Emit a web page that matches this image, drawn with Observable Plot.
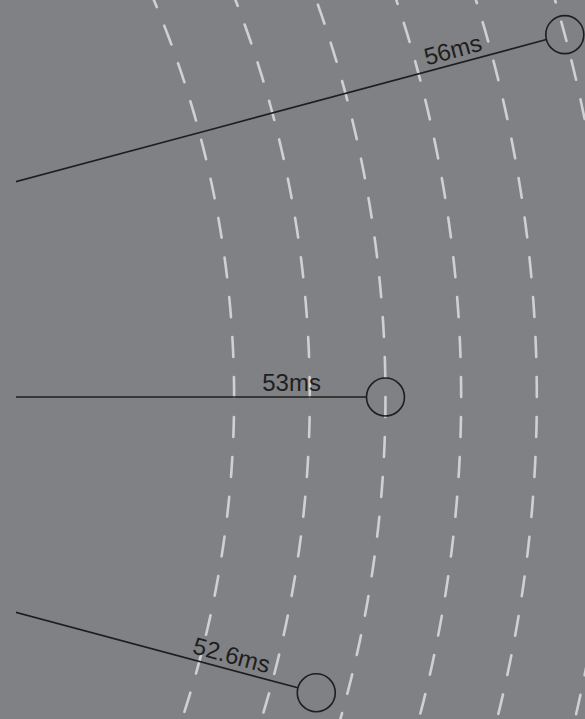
<!DOCTYPE html>
<html><head><meta charset="utf-8">
<script src="https://cdn.jsdelivr.net/npm/d3@7"></script>
<script src="https://cdn.jsdelivr.net/npm/@observablehq/plot@0.6"></script>
<style>html,body{margin:0;padding:0;background:#808185;overflow:hidden}</style>
</head><body><div id="chart"></div>
<script>
// Data
const labels = ["56ms", "53ms", "52.6ms"];
const values = [56, 53, 52.6];
const gridTicks = [51, 52, 53, 54, 55, 56];
const halfPhaseTicks = [53]; // grid circles whose dash pattern is shifted by half a period

// Scales / layout
const W = 585, H = 719;
const S = 1200;                       // projection scale
const degPerPx = 180 / (Math.PI * S);
const radius = d3.scaleLinear().domain([37.5, 56]).range([0, 1400]); // value -> px from centre
const spokeAngle = d3.scalePoint().domain(labels).range([105, 75]);   // longitude (azimuth)
const dotR = 19;
const labelRatio = 0.92;
const labelLift = 6; // px above spoke
const dash = 20;

const lat = px => 90 - px * degPerPx;
const rows = labels.map((label, i) => ({label, value: values[i], lon: spokeAngle(label)}));

const projection = d3.geoAzimuthalEquidistant()
  .rotate([0, -90])
  .scale(S)
  .translate([-788, 396.5])
  .precision(0.05);

// dashed grid circles, drawn as two half-circles starting at the horizontal
const gridMarks = gridTicks.flatMap(t => {
  const la = lat(radius(t));
  const shifted = halfPhaseTicks.includes(t);
  const half = dir => ({type: "LineString", coordinates: d3.range(0, 180.25, 0.5).map(a => [90 + dir * a, la])});
  return [1, -1].map(dir => Plot.geo([half(dir)], {
    fill: "none",
    stroke: "#d0d0d2",
    strokeWidth: 2.6,
    strokeDasharray: `${dash},${dash}`,
    strokeDashoffset: dir === 1 ? (shifted ? dash : 0) : (shifted ? 0 : dash)
  }));
});

const chart = Plot.plot({
  width: W,
  height: H,
  marginLeft: 16, marginRight: 0, marginTop: 0, marginBottom: 0,
  projection,
  style: {background: "#808185", fontFamily: "'Liberation Sans', Arial, Helvetica, sans-serif", overflow: "hidden"},
  marks: [
    ...gridMarks,
    Plot.link(rows, {
      x1: "lon", y1: () => 90,
      x2: "lon", y2: d => lat(radius(d.value) - dotR),
      stroke: "#1e1e1e", strokeWidth: 1.6, clip: "frame"
    }),
    Plot.dot(rows, {
      x: "lon", y: d => lat(radius(d.value)),
      r: dotR, fill: "none", stroke: "#1e1e1e", strokeWidth: 1.6
    }),
    Plot.text(rows, {
      x: d => d.lon + (labelLift / (radius(d.value) * labelRatio)) * 180 / Math.PI,
      y: d => lat(radius(d.value) * labelRatio),
      text: "label",
      rotate: d => 90 - d.lon,
      lineAnchor: "bottom",
      textAnchor: "middle",
      fontSize: 24,
      fill: "#1e1e1e"
    })
  ]
});
document.getElementById("chart").appendChild(chart);
</script>
</body></html>
